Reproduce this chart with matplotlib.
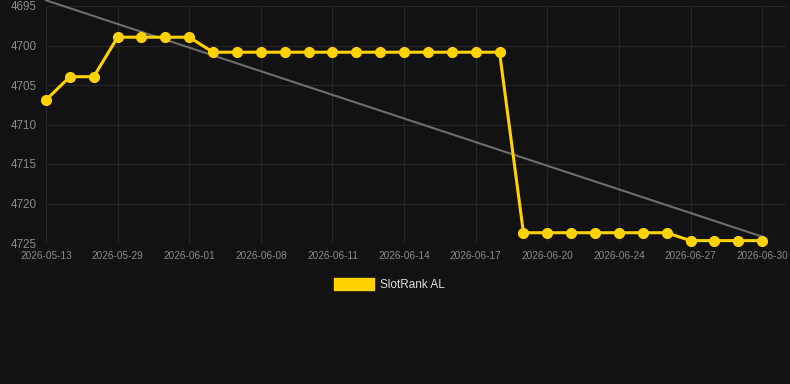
import numpy as np
import matplotlib.pyplot as plt

plt.rcParams["font.family"] = ["Liberation Sans", "DejaVu Sans"]

# --- data ---
dates = ["2026-05-13", "2026-05-29", "2026-06-01", "2026-06-08", "2026-06-11",
         "2026-06-14", "2026-06-17", "2026-06-20", "2026-06-24", "2026-06-27",
         "2026-06-30"]
ranks = [4706.9, 4703.95, 4703.95, 4698.95, 4698.95, 4698.95, 4698.95,
         4700.85, 4700.85, 4700.85, 4700.85, 4700.85, 4700.85, 4700.85, 4700.85,
         4700.85, 4700.85, 4700.85, 4700.85, 4700.85,
         4723.7, 4723.7, 4723.7, 4723.7, 4723.7, 4723.7, 4723.7,
         4724.7, 4724.7, 4724.7, 4724.7]
series_name = "SlotRank AL"

bg = "#121212"
x = np.arange(len(ranks))
y = np.array(ranks, dtype=float)

# trend line (least squares)
k, b = np.polyfit(x, y, 1)

fig = plt.figure(figsize=(7.9, 3.84), dpi=100, facecolor=bg)
ax = fig.add_axes([46 / 790, 1 - 243 / 384, 740 / 790, 237 / 384])
ax.set_facecolor(bg)

ax.plot(x, k * x + b, color="#6e6e6e", linewidth=1.5, zorder=2, clip_on=False)
ax.plot(x, y, color="#ffd200", linewidth=2.2, marker="o", markersize=7,
        zorder=3, clip_on=False)

ax.set_xlim(0, len(ranks))
ax.set_ylim(4725, 4695)

ax.set_yticks([4695, 4700, 4705, 4710, 4715, 4720, 4725])
ax.set_xticks(x[::3])
ax.set_xticklabels(dates)

ax.tick_params(axis="y", labelsize=8.4, length=0, pad=7)
ax.tick_params(axis="x", labelsize=7.2, length=0, pad=6)
for lbl in ax.get_yticklabels() + ax.get_xticklabels():
    lbl.set_color("#8a8a8a")

ax.grid(True, color="#262626", linewidth=0.8)
ax.set_axisbelow(True)
for s in ax.spines.values():
    s.set_visible(False)

# legend
fig.patches.append(plt.Rectangle((334 / 790, 1 - 290 / 384), 40 / 790, 12 / 384,
                                 transform=fig.transFigure, color="#ffd200"))
fig.text(380 / 790, 1 - 284.5 / 384, series_name, color="#dddddd", fontsize=8.5,
         va="center", ha="left")

fig.savefig("out.png", dpi=100, facecolor=bg)
